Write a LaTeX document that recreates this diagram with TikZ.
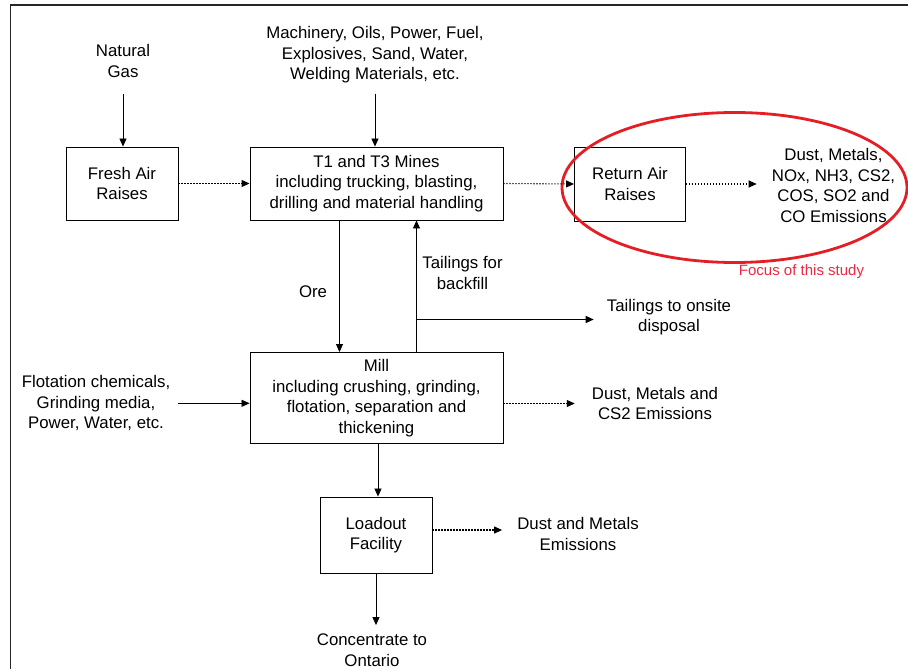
\documentclass[tikz,border=0pt]{standalone}
\usepackage{fontspec}
\setmainfont{Liberation Sans}
\usetikzlibrary{arrows.meta}
\definecolor{ellred}{RGB}{228,30,36}
\definecolor{txtred}{RGB}{238,40,64}
\begin{document}
\begin{tikzpicture}[x=1pt,y=-1pt,
  every node/.style={font=\fontsize{16.8}{20.5}\selectfont, align=center, inner sep=0pt},
  box/.style={draw, line width=0.9pt},
  arr/.style={line width=0.85pt, -{Triangle[length=8pt,width=7pt]}},
  dotarr/.style={arr, line width=1.1pt, dash pattern=on 1.1pt off 1.9pt}]
\useasboundingbox (0,0) rectangle (908,669);
\draw[line width=1.6pt, black!85] (10.5,669) -- (10.5,5) -- (908,5);

\node (ng) at (123,61) {Natural\\Gas};
\node (top) at (375,55) {Machinery, Oils, Power, Fuel,\\Explosives, Sand, Water,\\Welding Materials, etc.};
\node[box, minimum width=112pt, minimum height=73pt] (fresh) at (122,183.5) {Fresh Air\\Raises};
\node[box, minimum width=253pt, minimum height=73pt] (t1) at (376.5,183.5) {T1 and T3 Mines\\including trucking, blasting,\\drilling and material handling};
\node[box, minimum width=111pt, minimum height=74pt] (ret) at (630,184) {Return Air\\Raises};
\node (em1) at (833.5,185.5) {Dust, Metals,\\NOx, NH3, CS2,\\COS, SO2 and\\CO Emissions};
\draw[ellred, line width=2.8pt] (734.5,187.5) ellipse [x radius=172.5pt, y radius=75pt];
\node[txtred, font=\fontsize{15}{18}\selectfont] (focus) at (801.5,272) {Focus of this study};
\node (ore) at (313,291.5) {Ore};
\node (tfb) at (462.5,273) {Tailings for\\backfill};
\node (td) at (669,317) {Tailings to onsite\\disposal};
\node[box, minimum width=253pt, minimum height=91pt] (mill) at (376.5,398) {Mill\\including crushing, grinding,\\flotation, separation and\\thickening};
\node (flot) at (96,403.3) {Flotation chemicals,\\Grinding media,\\Power, Water, etc.};
\node (em2) at (655,403.5) {Dust, Metals and\\CS2 Emissions};
\node[box, minimum width=112pt, minimum height=76pt] (load) at (376,535) {Loadout\\Facility};
\node (em3) at (578,534) {Dust and Metals\\Emissions};
\node (conc) at (372,650) {Concentrate to\\Ontario};

\draw[arr, shorten <=16.5pt] (ng.south) -- (ng.south |- fresh.north);
\draw[arr, shorten <=10pt] (top.south) -- (top.south |- t1.north);
\draw[dotarr] (fresh.east) -- (t1.west);
\draw[dotarr] (t1.east) -- (ret.west);
\draw[dotarr, shorten >=15pt] (ret.east) -- (ret.east -| em1.west);
\draw[arr] ([xshift=-37pt]t1.south) -- ([xshift=-37pt]t1.south |- mill.north);
\draw[arr] ([xshift=40pt]mill.north) -- ([xshift=40pt]mill.north |- t1.south);
\coordinate (br) at (416.5,319.5);
\draw[arr, shorten >=13pt] (br) -- (br -| td.west);
\draw[arr, shorten <=8pt] (flot.east) -- (flot.east -| mill.west);
\draw[dotarr, shorten >=17pt] (em2.west -| mill.east) -- (em2.west);
\draw[arr] ([xshift=1.5pt]mill.south) -- ([xshift=1.5pt]mill.south |- load.north);
\draw[dotarr, shorten >=15pt] ([yshift=5pt]load.east) -- ([yshift=5pt]load.east -| em3.west);
\draw[arr, shorten >=8.5pt] (load.south) -- (load.south |- conc.north);
\end{tikzpicture}
\end{document}
